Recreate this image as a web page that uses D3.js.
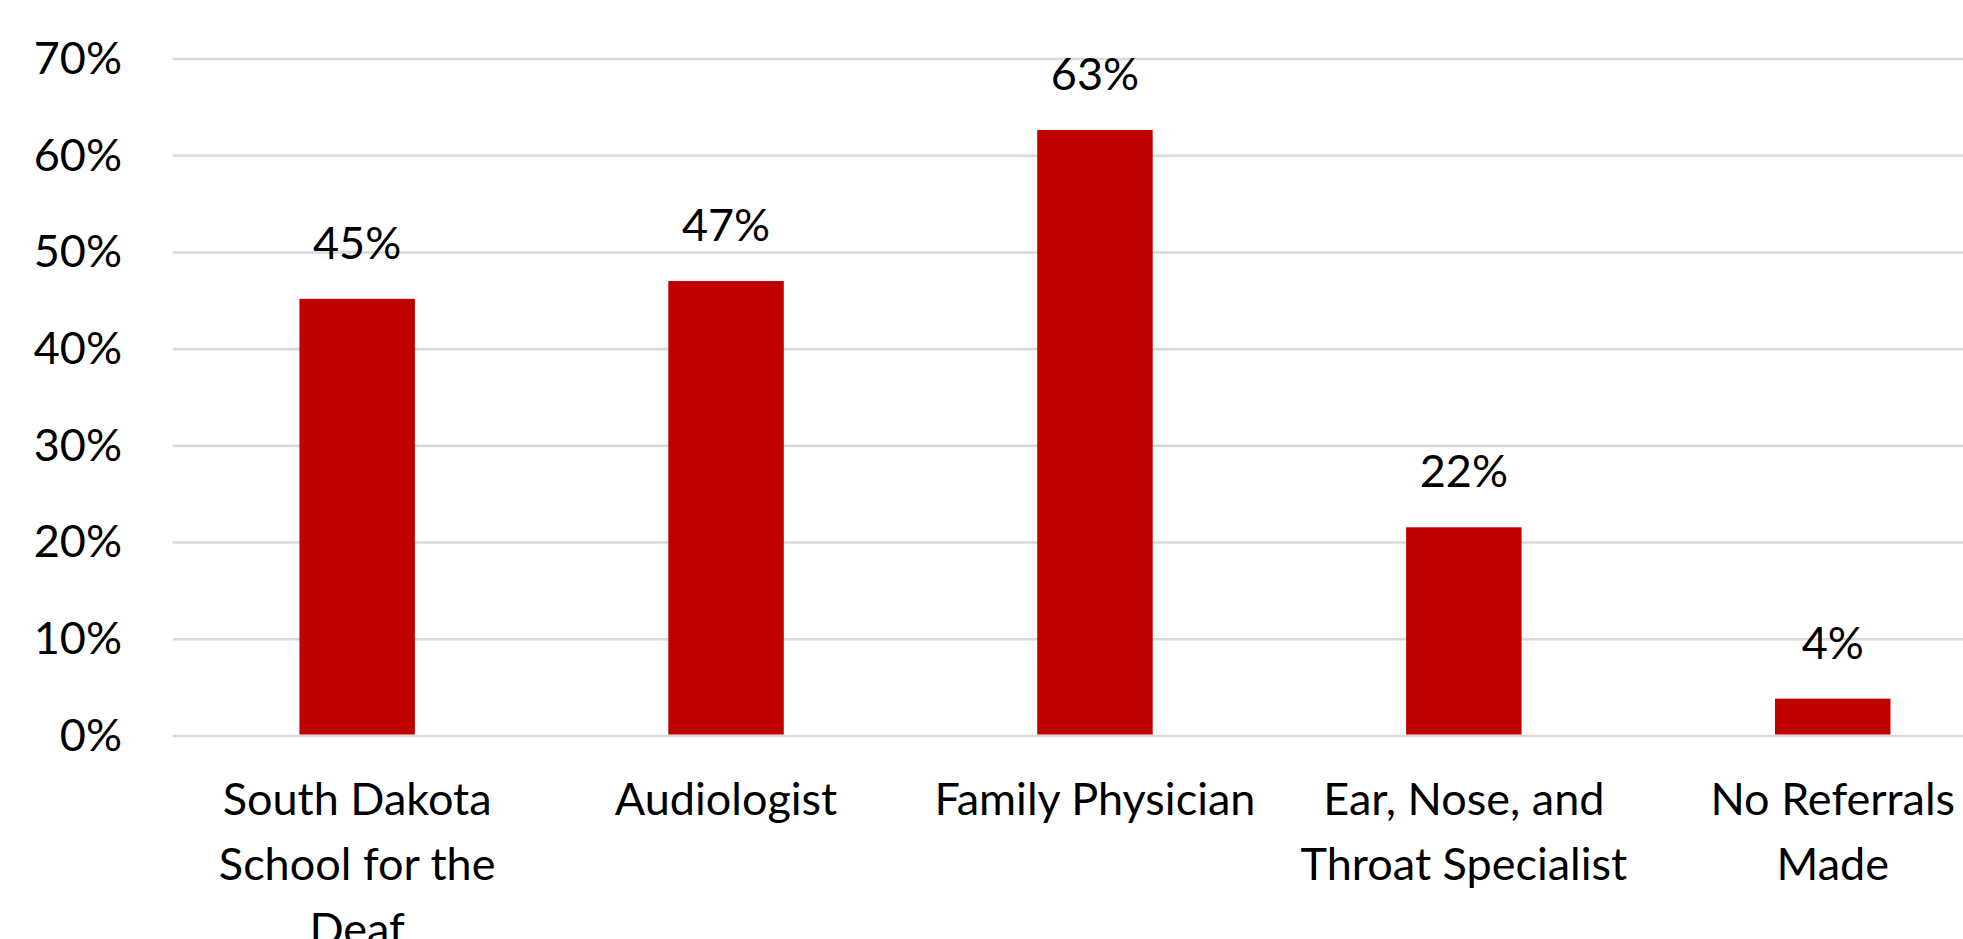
<!DOCTYPE html>
<html>
<head>
<meta charset="utf-8">
<script src="https://cdn.jsdelivr.net/npm/d3@7"></script>
<style>
  html, body { margin: 0; padding: 0; background: #ffffff; overflow: hidden; }
  svg { display: block; }
  text { font-family: Lato, "Open Sans", sans-serif; fill: #000000; }
</style>
</head>
<body>
<svg id="chart" width="1963" height="939"></svg>
<script>
// Referral sources (share of respondents)
const categories = [
  "South Dakota School for the Deaf",
  "Audiologist",
  "Family Physician",
  "Ear, Nose, and Throat Specialist",
  "No Referrals Made"
];
// Wrapped axis label lines for each category
const categoryLines = [
  ["South Dakota", "School for the", "Deaf"],
  ["Audiologist"],
  ["Family Physician"],
  ["Ear, Nose, and", "Throat Specialist"],
  ["No Referrals", "Made"]
];
const values = [0.452, 0.4705, 0.6266, 0.2158, 0.0386];
const yTicks = [0, 0.1, 0.2, 0.3, 0.4, 0.5, 0.6, 0.7];

const svg = d3.select("#chart");

const plotLeft = 172.7;
const plotRight = 2017.2;   // plot area runs past the right edge of the page
const y0 = 736, yTop = 59;

const x = d3.scaleBand()
  .domain(categories)
  .range([plotLeft, plotRight])
  .paddingInner(0.687)
  .paddingOuter(0.3435);

const y = d3.scaleLinear()
  .domain([0, 0.7])
  .range([y0, yTop]);

const pct = d3.format(".0%");

// horizontal gridlines
svg.append("g")
  .selectAll("line")
  .data(yTicks)
  .join("line")
  .attr("x1", plotLeft)
  .attr("x2", 1963)
  .attr("y1", d => y(d))
  .attr("y2", d => y(d))
  .attr("stroke", "#d9d9d9")
  .attr("stroke-width", 2.6);

// y-axis tick labels
const yAxis = d3.axisLeft(y).tickValues(yTicks).tickFormat(pct).tickSize(0).tickPadding(0);
const gy = svg.append("g")
  .attr("transform", "translate(122,0)")
  .call(yAxis);
gy.select(".domain").remove();
gy.selectAll("text")
  .attr("font-family", "Lato, 'Open Sans', sans-serif")
  .attr("font-size", 45)
  .attr("fill", "#000")
  .attr("dy", "0.32em")
  .attr("x", 0);

// bars
svg.append("g")
  .selectAll("rect")
  .data(values)
  .join("rect")
  .attr("x", (d, i) => x(categories[i]))
  .attr("width", x.bandwidth())
  .attr("y", d => y(d))
  .attr("height", d => y(0) - y(d) - 1.5)
  .attr("fill", "#c00000");

// value labels above bars
svg.append("g")
  .selectAll("text")
  .data(values)
  .join("text")
  .attr("x", (d, i) => x(categories[i]) + x.bandwidth() / 2)
  .attr("y", d => y(d) - 40)
  .attr("text-anchor", "middle")
  .attr("font-size", 45)
  .text(d => pct(d));

// category labels, wrapped over several lines
const xl = svg.append("g")
  .selectAll("text")
  .data(categoryLines)
  .join("text")
  .attr("x", (d, i) => x(categories[i]) + x.bandwidth() / 2)
  .attr("y", 815)
  .attr("text-anchor", "middle")
  .attr("font-size", 45);
xl.each(function(lines, i) {
  const cx = x(categories[i]) + x.bandwidth() / 2;
  d3.select(this).selectAll("tspan")
    .data(lines)
    .join("tspan")
    .attr("x", cx)
    .attr("dy", (d, j) => j === 0 ? 0 : 65)
    .text(d => d);
});
</script>
</body>
</html>
